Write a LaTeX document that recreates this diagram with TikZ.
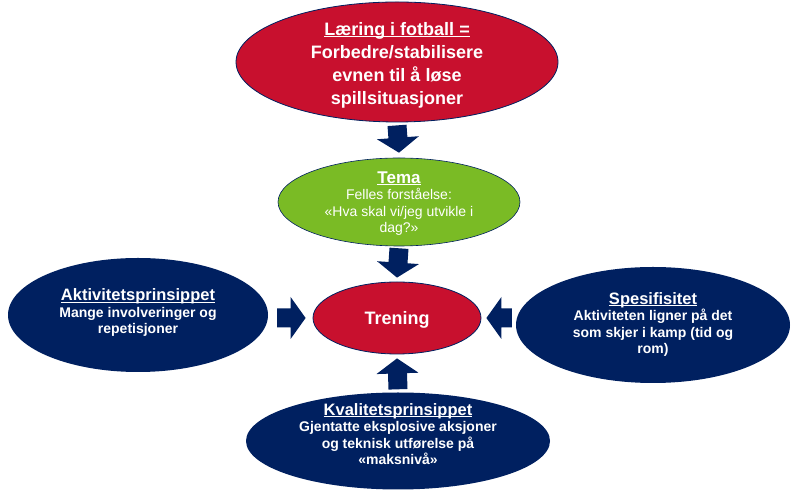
\documentclass[tikz,border=0pt]{standalone}
\usepackage{fontspec}
\setmainfont{Liberation Sans}
\usetikzlibrary{shapes.geometric,calc}
\definecolor{fotred}{RGB}{200,16,46}
\definecolor{fotnavy}{RGB}{0,32,96}
\definecolor{fotgreen}{RGB}{122,187,37}
\newsavebox{\fotulbox}
\newcommand{\fotul}[1]{\sbox{\fotulbox}{#1}\rlap{\rule[-2.2pt]{\wd\fotulbox}{1.1pt}}\usebox{\fotulbox}}
% centred lines that take no room, so the ellipse keeps its size
\newcommand{\fottext}[2]{\raisebox{#1}[0pt][0pt]{\begin{tabular}{@{}c@{}}#2\end{tabular}}}
% block arrow from #1 to #2 (named coordinates)
\newcommand{\fotarrow}[2]{%
  \coordinate (fotbase) at ($(#2)!15pt!(#1)$);
  \fill[fotnavy] ($(#1)!9.5pt!90:(#2)$) -- ($(fotbase)!9.5pt!90:(#2)$)
    -- ($(fotbase)!21pt!90:(#2)$) -- (#2) -- ($(fotbase)!21pt!-90:(#2)$)
    -- ($(fotbase)!9.5pt!-90:(#2)$) -- ($(#1)!9.5pt!-90:(#2)$) -- cycle;}

\begin{document}
\begin{tikzpicture}[x=1pt, y=1pt,
  bubble/.style={ellipse, inner sep=0pt, text=white},
  redbub/.style={bubble, fill=fotred, draw=fotnavy, line width=0.8pt},
  greenbub/.style={bubble, fill=fotgreen, draw=fotnavy, line width=0.6pt},
  navybub/.style={bubble, fill=fotnavy, font=\fontsize{14}{16.5}\selectfont\bfseries}]
  \useasboundingbox (0,0) rectangle (800,500);
  % the ellipses
  \node[redbub, minimum width=322pt, minimum height=120pt,
    font=\fontsize{18}{23}\selectfont\bfseries] (laering) at (397,438)
    {\fottext{-7.5pt}{\fotul{Læring i fotball =}\\ Forbedre/stabilisere\\ evnen til å løse\\ spillsituasjoner}};
  \node[greenbub, minimum width=242pt, minimum height=88pt,
    font=\fontsize{14}{16.5}\selectfont] (tema) at (399,298)
    {\fottext{-6pt}{{\fontsize{17}{19}\selectfont\bfseries\fotul{Tema}}\\ Felles forståelse:\\ «Hva skal vi/jeg utvikle i\\ dag?»}};
  \node[redbub, minimum width=168pt, minimum height=72pt,
    font=\fontsize{18}{22}\selectfont\bfseries] (trening) at (397,182) {\fottext{-6pt}{Trening}};
  \node[navybub, minimum width=260pt, minimum height=114pt] (aktivitet) at (138,185)
    {\fottext{-2.5pt}{{\fontsize{16.5}{19}\selectfont\fotul{Aktivitetsprinsippet}}\\ Mange involveringer og\\ repetisjoner}};
  \node[navybub, minimum width=274pt, minimum height=116pt] (spesifisitet) at (653,175)
    {\fottext{-4pt}{{\fontsize{16.5}{19}\selectfont\fotul{Spesifisitet}}\\ Aktiviteten ligner på det\\ som skjer i kamp (tid og\\ rom)}};
  \node[navybub, minimum width=304pt, minimum height=97pt] (kvalitet) at (398,59)
    {\fottext{1pt}{{\fontsize{16.5}{19}\selectfont\fotul{Kvalitetsprinsippet}}\\ Gjentatte eksplosive aksjoner\\ og teknisk utførelse på\\ «maksnivå»}};
  % arrow end points
  \coordinate (a1) at ([yshift=-3pt]laering.south);
  \coordinate (b1) at ([yshift=5pt]tema.north);
  \coordinate (a2) at ([yshift=-2pt]tema.south);
  \coordinate (b2) at ([yshift=4pt]trening.north);
  \coordinate (a3) at ($(trening.west -| aktivitet.east)+(9,0)$);
  \coordinate (b3) at ([xshift=-7pt]trening.west);
  \coordinate (a4) at ($(trening.east -| spesifisitet.west)+(-4,0)$);
  \coordinate (b4) at ([xshift=5pt]trening.east);
  \coordinate (a5) at ([yshift=3pt]kvalitet.north);
  \coordinate (b5) at ([yshift=-4pt]trening.south);
  % the arrows
  \foreach \i in {1,...,5} {\fotarrow{a\i}{b\i}}
\end{tikzpicture}
\end{document}
